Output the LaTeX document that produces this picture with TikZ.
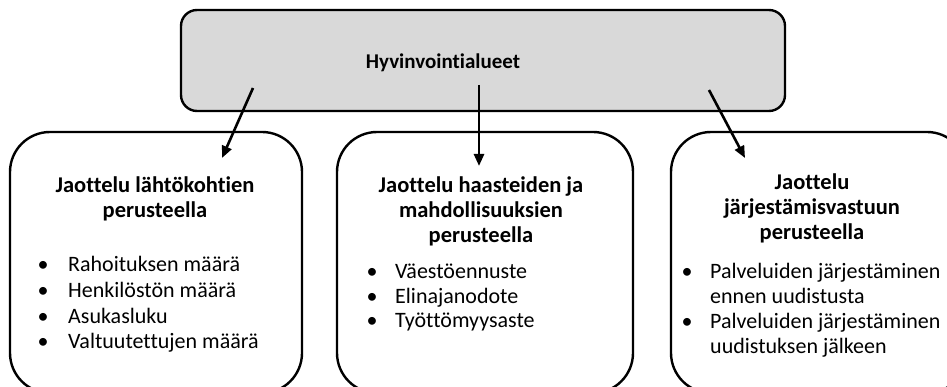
\documentclass[tikz,border=0pt]{standalone}
\usepackage{fontspec}
\setmainfont{Carlito}[Ligatures=NoCommon]
\usetikzlibrary{arrows.meta}
\begin{document}
\begin{tikzpicture}[x=1pt,y=-1pt,
  panel/.style={draw=black, line width=2.4pt, rounded corners=40pt, fill=white,
    inner sep=0pt},
  headbox/.style={draw=black, line width=2.4pt, rounded corners=16pt,
    fill=gray!30, inner sep=0pt},
  link/.style={line width=2.6pt, -{Triangle[length=12pt,width=10pt]}},
  ttl/.style={font=\bfseries\fontsize{22.5}{25}\selectfont, anchor=base, inner sep=0pt},
  itm/.style={font=\fontsize{22}{25}\selectfont, anchor=base west, inner sep=0pt},
  dot/.style={font=\fontsize{22}{25}\selectfont, anchor=base, inner sep=0pt}]
\useasboundingbox (0,0) rectangle (947,387);
\clip (0,0) rectangle (947,387);

% top box
\node[headbox, minimum width=604pt, minimum height=101pt] (top) at (483,60.5) {};
\node[ttl, font=\bfseries\fontsize{21}{25}\selectfont] (toptitle) at (443,69) {Hyvinvointialueet};

% three panels
\node[panel, minimum width=292pt, minimum height=261pt] (p1) at (156,262.5) {};
\node[panel, minimum width=296pt, minimum height=261pt] (p2) at (485,262.5) {};
\node[panel, minimum width=296pt, minimum height=261pt] (p3) at (819,262.5) {};

% connectors
\coordinate (s1) at (253,88);  \coordinate (e1) at (222,158);
\coordinate (s2) at (479,85);  \coordinate (e2) at (479,166);
\coordinate (s3) at (709,90);  \coordinate (e3) at (745,158);
\draw[link] (s1) -- (e1);
\draw[link] (s2) -- (e2);
\draw[link] (s3) -- (e3);

% panel 1
\node[ttl] (t11) at (155,193) {Jaottelu lähtökohtien};
\node[ttl] (t12) at (155,218) {perusteella};
\foreach \y/\txt [count=\i] in {272/Rahoituksen määrä, 297.5/Henkilöstön määrä,
    323/Asukasluku, 348/Valtuutettujen määrä} {
  \node[dot] (d1\i) at (43,\y) {•};
  \node[itm] (i1\i) at (68,\y) {\txt};
}

% panel 2
\node[ttl] (t21) at (481,193) {Jaottelu haasteiden ja};
\node[ttl] (t22) at (481,218) {mahdollisuuksien};
\node[ttl] (t23) at (481,243) {perusteella};
\foreach \y/\txt [count=\i] in {278/Väestöennuste, 303/Elinajanodote,
    327.5/Työttömyysaste} {
  \node[dot] (d2\i) at (372,\y) {•};
  \node[itm] (i2\i) at (395,\y) {\txt};
}

% panel 3
\node[ttl] (t31) at (812,190) {Jaottelu};
\node[ttl] (t32) at (812,215) {järjestämisvastuun};
\node[ttl] (t33) at (812,240) {perusteella};
\node[dot] (d31) at (687,278) {•};
\node[itm] (i31) at (710,278) {Palveluiden järjestäminen};
\node[itm] (i32) at (710,303) {ennen uudistusta};
\node[dot] (d32) at (687,328) {•};
\node[itm] (i33) at (710,328) {Palveluiden järjestäminen};
\node[itm] (i34) at (710,353) {uudistuksen jälkeen};
\end{tikzpicture}
\end{document}
